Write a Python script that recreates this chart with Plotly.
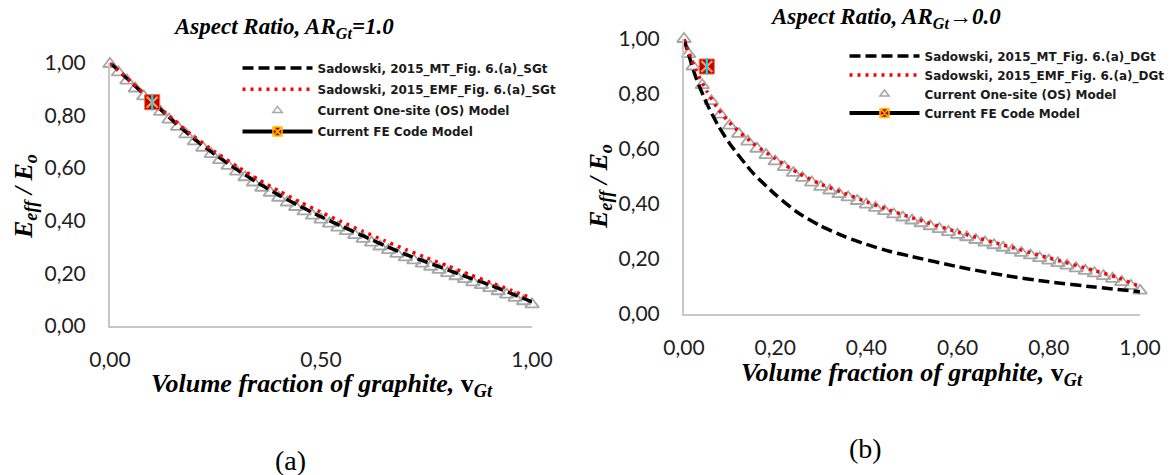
import plotly.graph_objects as go

W, H = 1173, 475

# ---------------- data: panel (a) Aspect ratio AR_Gt = 1.0 ----------------
a_mt_x = [0.00, 0.05, 0.10, 0.15, 0.20, 0.25, 0.30, 0.35, 0.40, 0.45, 0.50,
          0.55, 0.60, 0.65, 0.70, 0.75, 0.80, 0.85, 0.90, 0.95, 1.00]
a_mt_y = [1.000, 0.925, 0.852, 0.778, 0.710, 0.650, 0.595, 0.544, 0.497, 0.455, 0.415,
          0.378, 0.342, 0.306, 0.272, 0.243, 0.213, 0.184, 0.156, 0.124, 0.092]
a_emf_x = a_mt_x
a_emf_y = [1.000, 0.927, 0.855, 0.784, 0.718, 0.660, 0.607, 0.558, 0.513, 0.471, 0.432,
           0.395, 0.359, 0.324, 0.291, 0.259, 0.228, 0.197, 0.166, 0.136, 0.105]
a_os_x = [0.00, 0.02, 0.04, 0.06, 0.08, 0.10, 0.12, 0.14, 0.16, 0.18, 0.20,
          0.22, 0.24, 0.26, 0.28, 0.30, 0.32, 0.34, 0.36, 0.38, 0.40,
          0.42, 0.44, 0.46, 0.48, 0.50, 0.52, 0.54, 0.56, 0.58, 0.60,
          0.62, 0.64, 0.66, 0.68, 0.70, 0.72, 0.74, 0.76, 0.78, 0.80,
          0.82, 0.84, 0.86, 0.88, 0.90, 0.92, 0.94, 0.96, 0.98, 1.00]
a_os_y = [0.995, 0.963, 0.932, 0.902, 0.872, 0.843, 0.813, 0.784, 0.756, 0.728, 0.701,
          0.677, 0.653, 0.630, 0.608, 0.586, 0.565, 0.545, 0.525, 0.506, 0.487,
          0.469, 0.452, 0.435, 0.419, 0.404, 0.389, 0.374, 0.360, 0.345, 0.331,
          0.317, 0.302, 0.288, 0.274, 0.261, 0.249, 0.237, 0.225, 0.213, 0.201,
          0.189, 0.178, 0.166, 0.155, 0.144, 0.132, 0.119, 0.107, 0.094, 0.082]
a_fe_x = [0.10]
a_fe_y = [0.85]

# ---------------- data: panel (b) Aspect ratio AR_Gt -> 0.0 ----------------
b_mt_x = [0.00, 0.025, 0.05, 0.075, 0.10, 0.15, 0.20, 0.25, 0.30, 0.35, 0.40,
          0.45, 0.50, 0.60, 0.70, 0.80, 0.90, 1.00]
b_mt_y = [1.000, 0.865, 0.765, 0.685, 0.620, 0.515, 0.435, 0.368, 0.320, 0.283, 0.253,
          0.228, 0.209, 0.172, 0.141, 0.117, 0.098, 0.081]
b_emf_x = [0.00, 0.01, 0.025, 0.05, 0.075, 0.10, 0.15, 0.20, 0.25, 0.30, 0.35,
           0.40, 0.45, 0.50, 0.60, 0.70, 0.80, 0.90, 0.95, 1.00]
b_emf_y = [1.000, 0.955, 0.890, 0.810, 0.745, 0.695, 0.622, 0.565, 0.513, 0.472, 0.440,
           0.408, 0.378, 0.350, 0.298, 0.251, 0.204, 0.158, 0.133, 0.100]
b_os_x = [0.00, 0.01, 0.02, 0.04, 0.06, 0.08, 0.10, 0.12, 0.14, 0.16, 0.18, 0.20,
          0.22, 0.24, 0.26, 0.28, 0.30, 0.32, 0.34, 0.36, 0.38, 0.40,
          0.42, 0.44, 0.46, 0.48, 0.50, 0.52, 0.54, 0.56, 0.58, 0.60,
          0.62, 0.64, 0.66, 0.68, 0.70, 0.72, 0.74, 0.76, 0.78, 0.80,
          0.82, 0.84, 0.86, 0.88, 0.90, 0.92, 0.94, 0.96, 0.98, 1.00]
b_os_y = [1.000, 0.945, 0.900, 0.832, 0.774, 0.725, 0.685, 0.655, 0.627, 0.601, 0.578, 0.555,
          0.534, 0.513, 0.495, 0.478, 0.462, 0.449, 0.436, 0.424, 0.411, 0.398,
          0.386, 0.374, 0.362, 0.351, 0.340, 0.330, 0.319, 0.309, 0.298, 0.288,
          0.279, 0.269, 0.260, 0.250, 0.241, 0.232, 0.222, 0.213, 0.203, 0.194,
          0.185, 0.176, 0.166, 0.157, 0.148, 0.138, 0.128, 0.116, 0.102, 0.085]
b_fe_x = [0.05]
b_fe_y = [0.90]

x_ticks_a = [0.0, 0.5, 1.0]
x_ticks_b = [0.0, 0.2, 0.4, 0.6, 0.8, 1.0]
y_ticks = [0.0, 0.2, 0.4, 0.6, 0.8, 1.0]

names_a = ["Sadowski, 2015_MT_Fig. 6.(a)_SGt", "Sadowski, 2015_EMF_Fig. 6.(a)_SGt",
           "Current One-site (OS) Model", "Current FE Code Model"]
names_b = ["Sadowski, 2015_MT_Fig. 6.(a)_DGt", "Sadowski, 2015_EMF_Fig. 6.(a)_DGt",
           "Current One-site (OS) Model", "Current FE Code Model"]

# ---------------- styles ----------------
GRAY = "#a6a6a6"
MT_LINE = dict(color="black", width=3.5, dash="11px,5px")
EMF_LINE = dict(color="#ff0000", width=3.5, dash="3px,5px")
SERIF = "Liberation Serif"
SANS = "Lato"
LEG_FONT = "DejaVu Sans"


def px(X):
    return X / W


def py(Y):
    return 1 - Y / H


fig = go.Figure()


def add_panel(xa, ya, legend, names, mt_x, mt_y, emf_x, emf_y, os_x, os_y, fe_x, fe_y):
    # data traces (drawn), no legend
    fig.add_trace(go.Scatter(x=os_x, y=os_y, mode="markers", xaxis=xa, yaxis=ya,
                             marker=dict(symbol="triangle-up-open", size=12,
                                         color=GRAY, line=dict(width=1.8, color=GRAY)),
                             showlegend=False, cliponaxis=False))
    fig.add_trace(go.Scatter(x=mt_x, y=mt_y, mode="lines", xaxis=xa, yaxis=ya,
                             line=dict(shape="spline", smoothing=0.6, **MT_LINE),
                             showlegend=False, cliponaxis=False))
    fig.add_trace(go.Scatter(x=emf_x, y=emf_y, mode="lines", xaxis=xa, yaxis=ya,
                             line=dict(shape="spline", smoothing=0.6, **EMF_LINE),
                             showlegend=False, cliponaxis=False))
    fig.add_trace(go.Scatter(x=fe_x, y=fe_y, mode="markers", xaxis=xa, yaxis=ya,
                             marker=dict(symbol="square", size=15, color="#c00000",
                                         line=dict(color="#ff6a3d", width=1)),
                             showlegend=False, cliponaxis=False))
    fig.add_trace(go.Scatter(x=fe_x, y=fe_y, mode="markers", xaxis=xa, yaxis=ya,
                             marker=dict(symbol="x-thin-open", size=11,
                                         line=dict(color="#ffc000", width=2.2)),
                             showlegend=False, cliponaxis=False))
    fig.add_trace(go.Scatter(x=fe_x, y=fe_y, mode="markers", xaxis=xa, yaxis=ya,
                             marker=dict(symbol="line-ns-open", size=12,
                                         line=dict(color="#ffc000", width=2.2)),
                             showlegend=False, cliponaxis=False))
    # legend entries
    fig.add_trace(go.Scatter(x=[None], y=[None], mode="lines", xaxis=xa, yaxis=ya,
                             line=MT_LINE, name=names[0], legend=legend, legendgroup=legend + "1"))
    fig.add_trace(go.Scatter(x=[None], y=[None], mode="lines", xaxis=xa, yaxis=ya,
                             line=EMF_LINE, name=names[1], legend=legend, legendgroup=legend + "2"))
    fig.add_trace(go.Scatter(x=[None], y=[None], mode="markers", xaxis=xa, yaxis=ya,
                             marker=dict(symbol="triangle-up-open", size=8, color=GRAY,
                                         line=dict(width=1.5, color=GRAY)),
                             name=names[2], legend=legend, legendgroup=legend + "3"))
    fig.add_trace(go.Scatter(x=[None], y=[None], mode="lines+markers", xaxis=xa, yaxis=ya,
                             line=dict(color="black", width=4),
                             marker=dict(symbol="square-x", size=9, color="#c00000",
                                         line=dict(color="#ffc000", width=1.5)),
                             name=names[3], legend=legend, legendgroup=legend + "4"))


add_panel("x", "y", "legend", names_a, a_mt_x, a_mt_y, a_emf_x, a_emf_y,
          a_os_x, a_os_y, a_fe_x, a_fe_y)
add_panel("x2", "y2", "legend2", names_b, b_mt_x, b_mt_y, b_emf_x, b_emf_y,
          b_os_x, b_os_y, b_fe_x, b_fe_y)

AX_LINE = "#c8c8c8"
TICKFONT = dict(family=SANS, size=21, color="#1e1e1e")


def xax(domain, ticks):
    return dict(domain=domain, range=[0, 1], tickvals=ticks, tickformat=".2f",
                showgrid=False, zeroline=False, showline=True, linecolor=AX_LINE,
                linewidth=2, ticks="", tickfont=TICKFONT, ticklabelstandoff=14,
                fixedrange=True, automargin=False)


def yax(domain, anchor):
    return dict(domain=domain, range=[0, 1], tickvals=y_ticks, tickformat=".2f",
                showgrid=False, zeroline=False, showline=True, linecolor=AX_LINE,
                linewidth=2, ticks="", tickfont=TICKFONT, ticklabelstandoff=18,
                anchor=anchor, fixedrange=True, automargin=False)


LEGEND_FONT = dict(family=LEG_FONT, size=12, color="#1a1a1a", weight="bold")

fig.update_layout(
    width=W, height=H,
    margin=dict(l=0, r=0, t=0, b=0, pad=0, autoexpand=False),
    paper_bgcolor="white", plot_bgcolor="white",
    separators=",.",
    xaxis=xax([px(110), px(532)], x_ticks_a) | dict(anchor="y"),
    yaxis=yax([py(326), py(62.7)], "x"),
    xaxis2=xax([px(684), px(1140)], x_ticks_b) | dict(anchor="y2"),
    yaxis2=yax([py(314), py(39)], "x2"),
    legend=dict(x=px(237.5), y=py(53.5), xanchor="left", yanchor="top",
                bgcolor="rgba(0,0,0,0)", font=LEGEND_FONT, itemwidth=70,
                tracegroupgap=2.2, traceorder="grouped"),
    legend2=dict(x=px(844.5), y=py(41.5), xanchor="left", yanchor="top",
                 bgcolor="rgba(0,0,0,0)", font=LEGEND_FONT, itemwidth=70,
                 tracegroupgap=0, traceorder="normal"),
    showlegend=True,
)

TITLE_FONT = dict(family=SERIF, size=23, color="black")
AXT_FONT = dict(family=SERIF, size=26, color="black")
LAB_FONT = dict(family=SERIF, size=28, color="black")

annots = [
    dict(text="<b><i>Aspect Ratio, AR<sub>Gt</sub>=1.0</i></b>", X=283.5, Y=28, font=TITLE_FONT),
    dict(text="<b><i>Aspect Ratio, AR<sub>Gt</sub>\u21920.0</i></b>", X=885.7, Y=18.3, font=TITLE_FONT),
    dict(text="<b><i>Volume fraction of graphite, </i>v<sub><i>Gt</i></sub></b>", X=322, Y=385, font=AXT_FONT),
    dict(text="<b><i>Volume fraction of graphite, </i>v<sub><i>Gt</i></sub></b>", X=912, Y=374, font=AXT_FONT),
    dict(text="<b><i>E<sub>eff</sub> / E<sub>o</sub></i></b>", X=25, Y=197, font=AXT_FONT, textangle=-90),
    dict(text="<b><i>E<sub>eff</sub> / E<sub>o</sub></i></b>", X=600, Y=187, font=AXT_FONT, textangle=-90),
    dict(text="(a)", X=290, Y=460, font=LAB_FONT),
    dict(text="(b)", X=865, Y=448, font=LAB_FONT),
]
for a in annots:
    fig.add_annotation(text=a["text"], x=px(a["X"]), y=py(a["Y"]), xref="paper", yref="paper",
                       xanchor="center", yanchor="middle", showarrow=False, font=a["font"],
                       textangle=a.get("textangle", 0))

fig.write_html("out.html", config={"displayModeBar": False},
               post_script="document.body.style.margin='0';")
